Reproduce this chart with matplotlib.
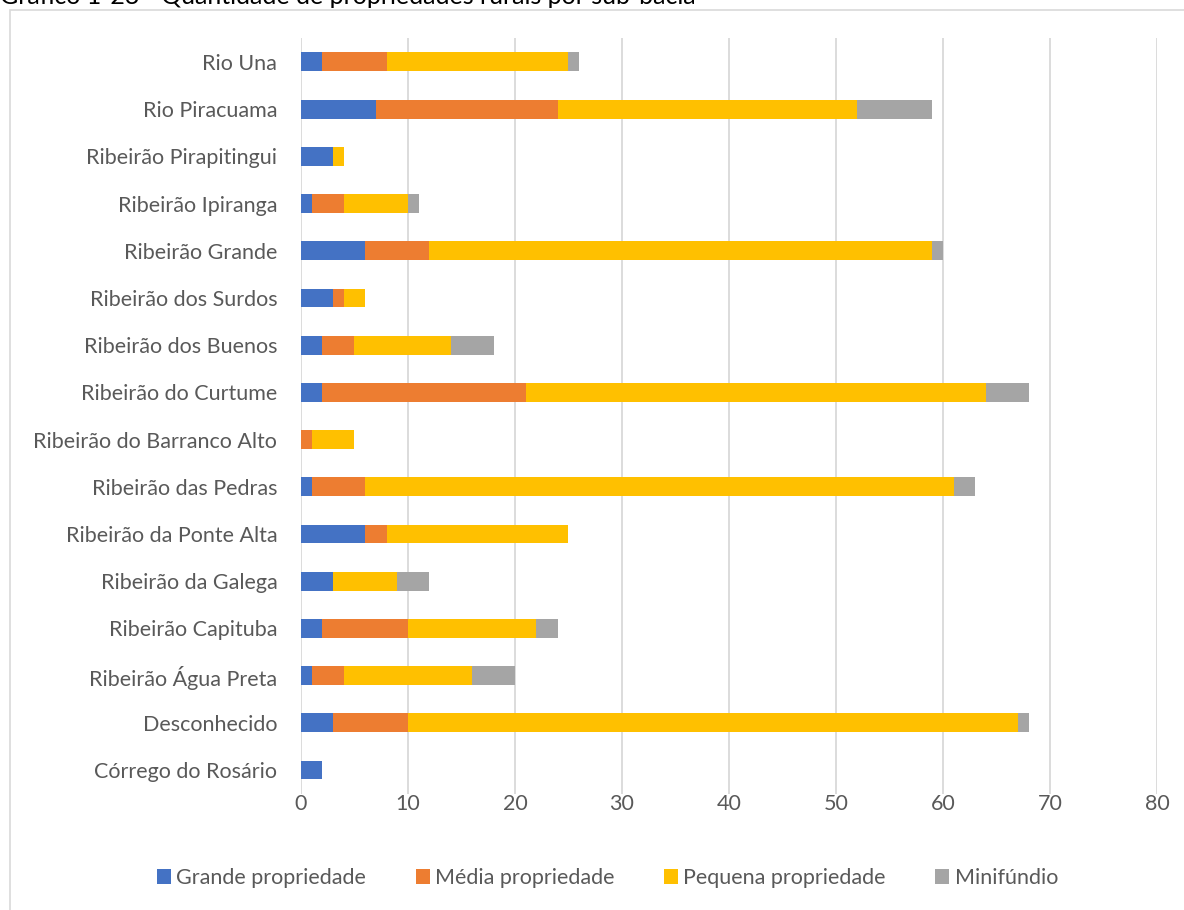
import matplotlib
matplotlib.use('Agg')
import matplotlib.pyplot as plt
import matplotlib.patches as mpatches
import numpy as np

plt.rcParams['font.family'] = ['Lato', 'DejaVu Sans']

# dados por sub-bacia (de baixo para cima no gráfico)
categorias = ['Córrego do Rosário', 'Desconhecido', 'Ribeirão Água Preta',
              'Ribeirão Capituba', 'Ribeirão da Galega', 'Ribeirão da Ponte Alta',
              'Ribeirão das Pedras', 'Ribeirão do Barranco Alto', 'Ribeirão do Curtume',
              'Ribeirão dos Buenos', 'Ribeirão dos Surdos', 'Ribeirão Grande',
              'Ribeirão Ipiranga', 'Ribeirão Pirapitingui', 'Rio Piracuama', 'Rio Una']
grande = [2, 3, 1, 2, 3, 6, 1, 0, 2, 2, 3, 6, 1, 3, 7, 2]
media = [0, 7, 3, 8, 0, 2, 5, 1, 19, 3, 1, 6, 3, 0, 17, 6]
pequena = [0, 57, 12, 12, 6, 17, 55, 4, 43, 9, 2, 47, 6, 1, 28, 17]
minifundio = [0, 1, 4, 2, 3, 0, 2, 0, 4, 4, 0, 1, 1, 0, 7, 1]

series = ['Grande propriedade', 'Média propriedade', 'Pequena propriedade', 'Minifúndio']
cores = ['#4472c4', '#ed7d31', '#ffc000', '#a5a5a5']

fig = plt.figure(figsize=(11.84, 9.10), dpi=100)
ax = fig.add_axes([0.2542, 0.1279, 0.723, 0.830])

y = np.arange(len(categorias))
esquerda = np.zeros(len(categorias))
for nome, vals, cor in zip(series, [grande, media, pequena, minifundio], cores):
    ax.barh(y, vals, left=esquerda, height=0.4, color=cor, label=nome, zorder=3)
    esquerda += np.array(vals)

ax.set_xlim(0, 80)
ax.set_ylim(-0.5, len(categorias) - 0.5)
ax.set_xticks(range(0, 81, 10))
ax.set_yticks(y)
ax.set_yticklabels(categorias)
ax.tick_params(axis='both', length=0, labelsize=15.5, colors='#595959')
ax.tick_params(axis='y', pad=17)
ax.tick_params(axis='x', pad=0)
ax.grid(axis='x', color='#d9d9d9', linewidth=1.3, zorder=0)
for s in ['top', 'right', 'bottom', 'left']:
    ax.spines[s].set_visible(False)

fig.legend(loc='center', bbox_to_anchor=(0.513, 0.035), ncol=4, frameon=False,
           fontsize=15.5, handlelength=0.65, handleheight=0.65, columnspacing=2.3,
           handletextpad=0.25, labelcolor='#595959')

# moldura do gráfico
fig.patches.append(mpatches.Rectangle((10 / 1184, -0.01), 1.0, 1 - 10 / 910 + 0.01,
                                      transform=fig.transFigure, fill=False,
                                      edgecolor='#d9d9d9', linewidth=1.2))

fig.text(0.0, 1 - 4 / 910, 'Gráfico 1-23 - Quantidade de propriedades rurais por sub-bacia',
         fontsize=18, va='baseline', ha='left', color='#000000')

fig.savefig('out.png', dpi=100)
